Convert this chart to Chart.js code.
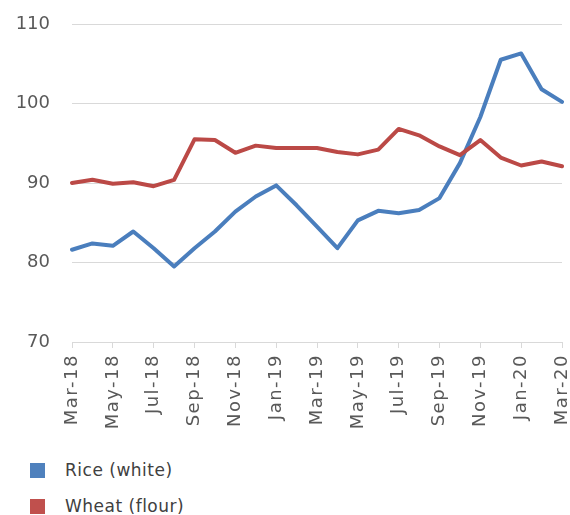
<!DOCTYPE html>
<html>
<head>
<meta charset="utf-8">
<script src="https://cdn.jsdelivr.net/npm/chart.js@4.4.1/dist/chart.umd.min.js"></script>
<style>
  html, body { margin: 0; padding: 0; background: #ffffff; }
  #wrap { position: relative; width: 570px; height: 515px; }
  #c { position: absolute; left: 0; top: 0; }
  #legend { position: absolute; left: 30px; top: 452px; font-family: "DejaVu Sans", sans-serif; font-size: 17px; letter-spacing: 0.5px; color: #404040; }
  .item { display: flex; align-items: center; height: 36px; }
  .box { width: 15px; height: 15px; margin-right: 20px; }
</style>
</head>
<body>
<div id="wrap">
  <canvas id="c" width="570" height="440"></canvas>
  <div id="legend"></div>
</div>
<script>
const categories = ["Mar-18","Apr-18","May-18","Jun-18","Jul-18","Aug-18","Sep-18","Oct-18","Nov-18","Dec-18",
  "Jan-19","Feb-19","Mar-19","Apr-19","May-19","Jun-19","Jul-19","Aug-19","Sep-19","Oct-19","Nov-19","Dec-19",
  "Jan-20","Feb-20","Mar-20"];
const riceWhite = [81.6, 82.4, 82.1, 83.9, 81.8, 79.5, 81.8, 83.9, 86.4, 88.3,
  89.7, 87.2, 84.5, 81.8, 85.3, 86.5, 86.2, 86.6, 88.1, 92.5, 98.3, 105.5,
  106.3, 101.8, 100.2];
const wheatFlour = [90.0, 90.4, 89.9, 90.1, 89.6, 90.4, 95.5, 95.4, 93.8, 94.7,
  94.4, 94.4, 94.4, 93.9, 93.6, 94.2, 96.8, 96.0, 94.6, 93.5, 95.4, 93.2,
  92.2, 92.7, 92.1];
const seriesNames = ["Rice (white)", "Wheat (flour)"];
const seriesColors = ["#4a7ebd", "#bb4946"];
const legendColors = ["#4f81bd", "#c0504d"];
const yTicks = [70, 80, 90, 100, 110];

const xLabelSpacing = {
  id: 'xLabelSpacing',
  beforeDraw(chart) {
    const s = chart.scales.x;
    if (s && !s._spaced) {
      const orig = s.drawLabels.bind(s);
      s.drawLabels = function(area) {
        const ctx = this.ctx;
        ctx.save();
        ctx.letterSpacing = '1.5px';
        orig(area);
        ctx.restore();
      };
      s._spaced = true;
    }
  }
};

const chart = new Chart(document.getElementById('c'), {
  type: 'line',
  data: {
    labels: categories,
    datasets: [
      { label: seriesNames[0], data: riceWhite, borderColor: seriesColors[0], backgroundColor: seriesColors[0],
        borderWidth: 4, pointRadius: 0, tension: 0, order: 2, borderJoinStyle: 'round', borderCapStyle: 'round' },
      { label: seriesNames[1], data: wheatFlour, borderColor: seriesColors[1], backgroundColor: seriesColors[1],
        borderWidth: 4, pointRadius: 0, tension: 0, order: 1, borderJoinStyle: 'round', borderCapStyle: 'round' }
    ]
  },
  plugins: [xLabelSpacing],
  options: {
    responsive: false,
    animation: false,
    layout: { padding: { top: 24, right: 8, left: 0, bottom: 0 } },
    plugins: { legend: { display: false }, tooltip: { enabled: false } },
    scales: {
      x: {
        offset: false,
        afterFit: s => { s.height = 98; s.paddingLeft = 0; s.paddingRight = 0; },
        grid: { drawOnChartArea: false, drawTicks: true, tickLength: 6, color: '#d9d9d9' },
        border: { color: '#d9d9d9', width: 1 },
        ticks: {
          autoSkip: false, maxRotation: 90, minRotation: 90, padding: 6,
          color: '#595959', font: { family: 'DejaVu Sans', size: 18 },
          callback: function(v, i) { return i % 2 === 0 ? categories[i] : null; }
        }
      },
      y: {
        min: yTicks[0], max: yTicks[yTicks.length - 1],
        afterFit: s => { s.width = 72; s.paddingTop = 0; s.paddingBottom = 0; },
        afterBuildTicks: s => { s.ticks = yTicks.map(v => ({ value: v })); },
        grid: { drawTicks: false, color: '#d9d9d9', lineWidth: 1 },
        border: { display: false },
        ticks: { padding: 22, color: '#595959', font: { family: 'DejaVu Sans', size: 18 } }
      }
    }
  }
});

const lg = document.getElementById('legend');
chart.data.datasets.forEach((ds, i) => {
  const it = document.createElement('div'); it.className = 'item';
  const b = document.createElement('div'); b.className = 'box'; b.style.background = legendColors[i];
  const t = document.createElement('span'); t.textContent = ds.label;
  it.appendChild(b); it.appendChild(t); lg.appendChild(it);
});
</script>
</body>
</html>
